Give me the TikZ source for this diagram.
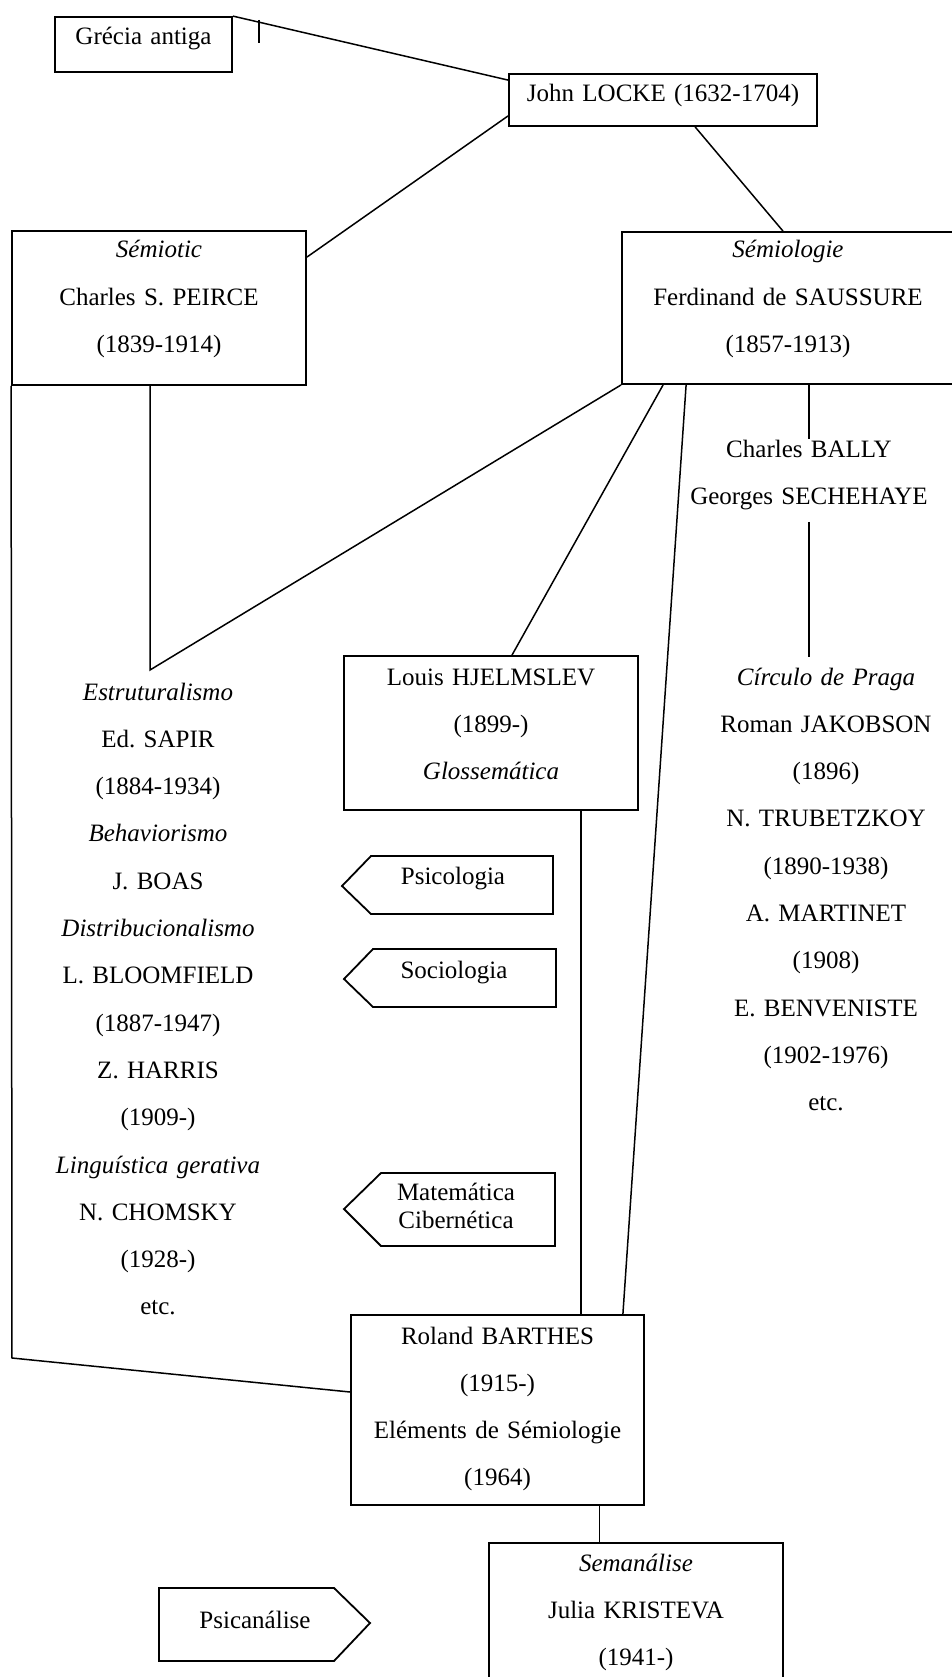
\documentclass[tikz,border=0pt]{standalone}
\usepackage{fontspec}
\setmainfont{Liberation Serif}
\usetikzlibrary{positioning,calc}
\newcommand*{\body}{\fontsize{25}{47.3}\selectfont\frenchspacing}
\tikzset{
  box/.style={draw, line width=1.8pt, inner sep=0pt, align=center, font=\body},
  txt/.style={inner sep=0pt, align=center, font=\body, text width=320pt, anchor=base},
  tag/.style={draw, line width=1.8pt, line join=miter},
  link/.style={line width=1.5pt}
}

\begin{document}
\frenchspacing
\begin{tikzpicture}[x=1pt,y=-1pt]
\useasboundingbox (0,0) rectangle (951,1677);
\node[box, text width=177pt, text height=28pt, text depth=27pt] (grecia) at (143.5,44.5) {Grécia antiga};
\node[box, text width=308pt, text height=28pt, text depth=24pt] (locke) at (663,100) {John LOCKE (1632-1704)};
\node[box, text width=294pt, text height=27pt, text depth=127pt] (peirce) at (159,308)
  {\textit{Sémiotic}\\Charles S. PEIRCE\\(1839-1914)};
\node[box, text width=332pt, text height=26pt, text depth=126pt] (saussure) at (788,308)
  {\textit{Sémiologie}\\Ferdinand de SAUSSURE\\(1857-1913)};
\node[box, text width=294pt, text height=29pt, text depth=125pt] (hjelm) at (491,733)
  {Louis HJELMSLEV\\(1899-)\\\textit{Glossemática}};
\node[box, text width=293pt, text height=29pt, text depth=161pt] (barthes) at (497.5,1410)
  {Roland BARTHES\\(1915-)\\Eléments de Sémiologie\\(1964)};
\node[box, text width=294pt, text height=28pt, text depth=160pt] (kristeva) at (636,1637)
  {\textit{Semanálise}\\Julia KRISTEVA\\(1941-)};

\node[txt] (estrut) at (158,700) {\textit{Estruturalismo}\\Ed. SAPIR\\(1884-1934)\\\textit{Behaviorismo}\\J. BOAS\\
  \textit{Distribucionalismo}\\L. BLOOMFIELD\\(1887-1947)\\Z. HARRIS\\(1909-)\\\textit{Linguística gerativa}\\
  N. CHOMSKY\\(1928-)\\etc.};
\node[txt] (bally) at (809,457) {Charles BALLY\\Georges SECHEHAYE};
\node[txt] (praga) at (826,685) {\textit{Círculo de Praga}\\Roman JAKOBSON\\(1896)\\N. TRUBETZKOY\\(1890-1938)\\
  A. MARTINET\\(1908)\\E. BENVENISTE\\(1902-1976)\\etc.};

\node[txt] (psico) at (453,884) {Psicologia};
\node[txt] (socio) at (454,978) {Sociologia};
\node[txt, font=\fontsize{25}{28}\selectfont] (matcib) at (456,1200) {Matemática\\Cibernética};
\node[txt] (psican) at (255,1628) {Psicanálise};
\draw[tag] (342,886) -- (371,856) -- (553,856) -- (553,914) -- (371,914) -- cycle;
\draw[tag] (344,979) -- (373,949) -- (556,949) -- (556,1007) -- (373,1007) -- cycle;
\draw[tag] (344,1209) -- (381,1173) -- (555,1173) -- (555,1246) -- (381,1246) -- cycle;
\draw[tag] (159,1588) -- (334,1588) -- (370,1623) -- (334,1661) -- (159,1661) -- cycle;

\draw[link] (grecia.north east) -- ([yshift=-7pt]locke.north west);
\draw[link] (259,20) -- (259,43);
\draw[link] ([yshift=11pt]locke.south west) -- ([yshift=-27pt]peirce.north east);
\draw[link] ([xshift=187pt]locke.south west) -- ([xshift=-5pt]saussure.north);
\coordinate (peircefoot) at (150,670);
\draw[link] (saussure.south west) -- (peircefoot) -- (peircefoot |- peirce.south);
\draw[link] ([xshift=42pt]saussure.south west) -- ([xshift=21pt]hjelm.north);
\draw[link] ([xshift=65pt]saussure.south west) -- ([xshift=-22pt]barthes.north east);
\draw[link] (bally.north |- saussure.south) -- (bally.north);
\draw[link, shorten <=12pt, shorten >=10.5pt] (bally.south) -- (bally.south |- praga.north);
\coordinate (hjfoot) at ([xshift=90pt]hjelm.south);
\draw[link] (hjfoot) -- (hjfoot |- barthes.north);
\coordinate (leftbend) at (12,1358);
\draw[link] (peirce.south west) -- (leftbend) -- ([yshift=18pt]barthes.west);
\coordinate (barfoot) at ([xshift=102pt]barthes.south);
\draw[link] (barfoot) -- (barfoot |- kristeva.north);
\end{tikzpicture}
\end{document}
